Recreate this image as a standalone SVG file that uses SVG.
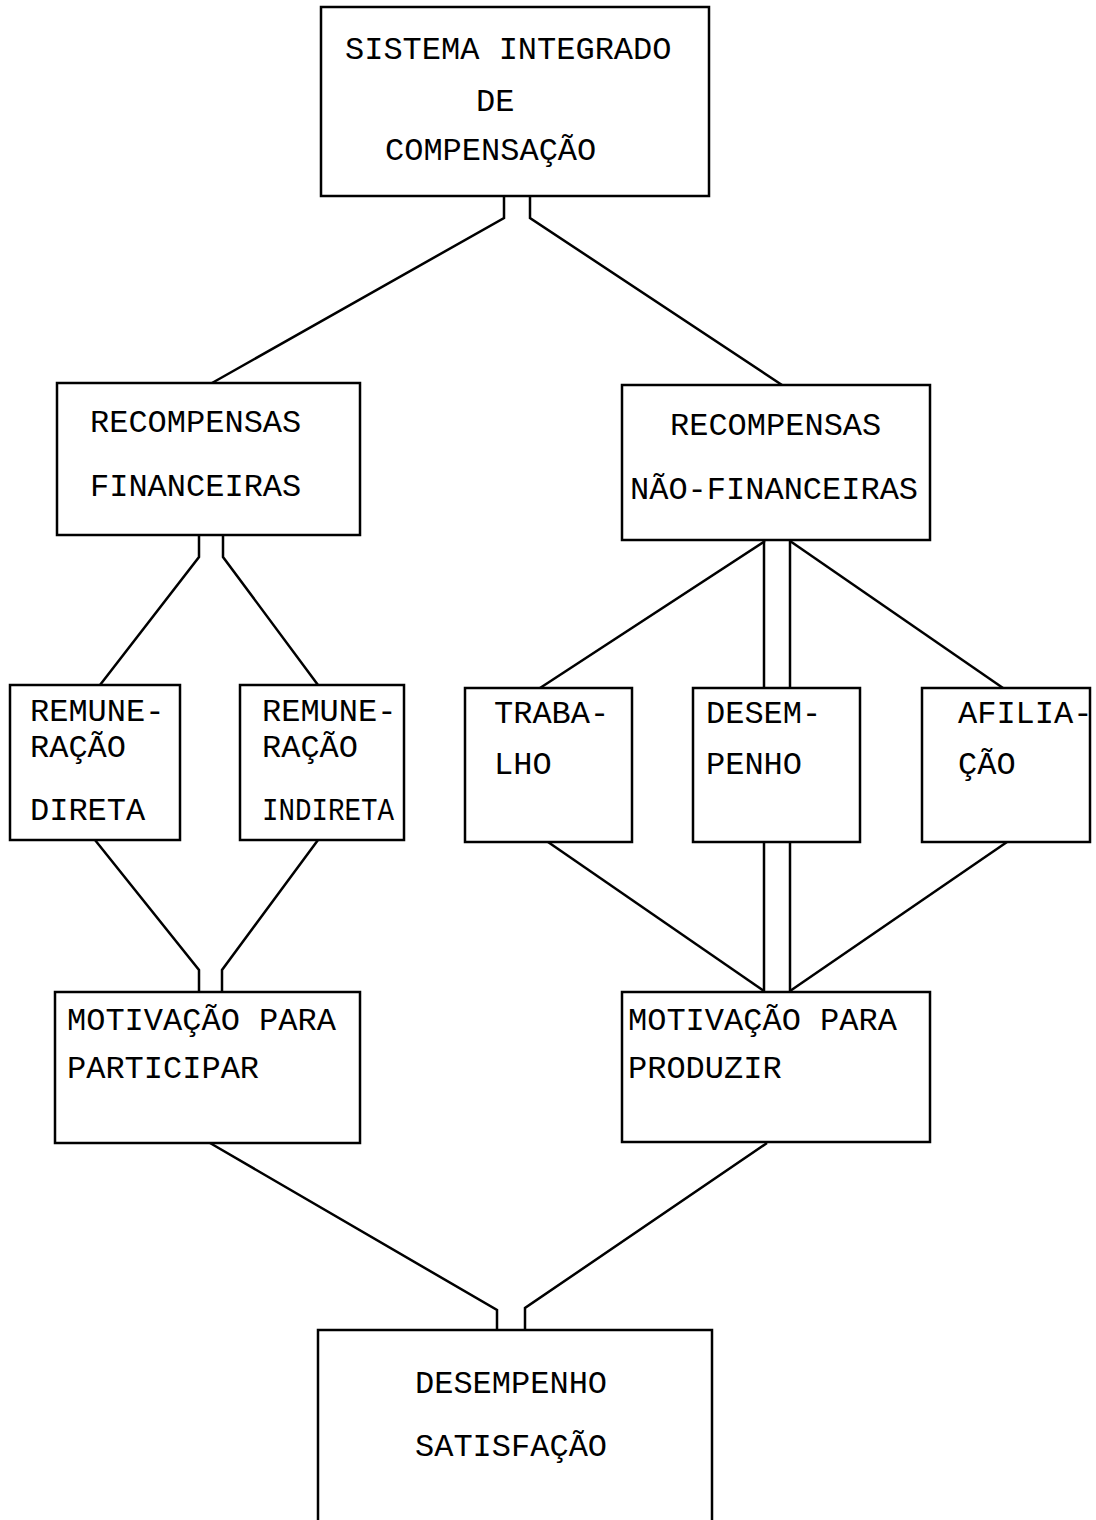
<svg xmlns="http://www.w3.org/2000/svg" width="1096" height="1520" viewBox="0 0 1096 1520">
<style>
.box{fill:none;stroke:#000;stroke-width:2.5}
.ln{fill:none;stroke:#000;stroke-width:2.5;stroke-linejoin:miter}
text{font-family:"Liberation Mono","Courier New",monospace;font-size:32px;fill:#000}
</style>
<rect width="1096" height="1520" fill="#fff"/>
<g id="connectors">
<polyline class="ln" points="212,383 504,218 504,196"/>
<polyline class="ln" points="782,385 530,218 530,196"/>
<polyline class="ln" points="100,685 199,557 199,535"/>
<polyline class="ln" points="318,685 223,557 223,535"/>
<line class="ln" x1="765" y1="541" x2="540" y2="688"/>
<line class="ln" x1="790" y1="541" x2="1003" y2="688"/>
<line class="ln" x1="764" y1="540" x2="764" y2="688"/>
<line class="ln" x1="790" y1="540" x2="790" y2="688"/>
<line class="ln" x1="764" y1="842" x2="764" y2="992"/>
<line class="ln" x1="790" y1="842" x2="790" y2="992"/>
<line class="ln" x1="548" y1="842" x2="764" y2="991"/>
<line class="ln" x1="1007" y1="842" x2="790" y2="991"/>
<polyline class="ln" points="95,840 199,970 199,992"/>
<polyline class="ln" points="318,840 222,970 222,992"/>
<polyline class="ln" points="210,1143 497,1310 497,1330"/>
<polyline class="ln" points="767,1143 525,1308 525,1330"/>
</g>
<g id="n1"><rect class="box" x="321" y="7" width="388" height="189"/>
<text x="345" y="59">SISTEMA INTEGRADO</text><text x="476" y="111">DE</text><text x="385" y="160">COMPENSAÇÃO</text></g>
<g id="n2"><rect class="box" x="57" y="383" width="303" height="152"/>
<text x="90" y="432">RECOMPENSAS</text><text x="90" y="496">FINANCEIRAS</text></g>
<g id="n3"><rect class="box" x="622" y="385" width="308" height="155"/>
<text x="670" y="435">RECOMPENSAS</text><text x="630" y="499">NÃO-FINANCEIRAS</text></g>
<g id="n4"><rect class="box" x="10" y="685" width="170" height="155"/>
<text x="30" y="721">REMUNE-</text><text x="30" y="757">RAÇÃO</text><text x="30" y="820">DIRETA</text></g>
<g id="n5"><rect class="box" x="240" y="685" width="164" height="155"/>
<text x="262" y="721">REMUNE-</text><text x="262" y="757">RAÇÃO</text><text x="262" y="820" textLength="132" lengthAdjust="spacingAndGlyphs">INDIRETA</text></g>
<g id="n6"><rect class="box" x="465" y="688" width="167" height="154"/>
<text x="494" y="723">TRABA-</text><text x="494" y="774">LHO</text></g>
<g id="n7"><rect class="box" x="693" y="688" width="167" height="154"/>
<text x="706" y="723">DESEM-</text><text x="706" y="774">PENHO</text></g>
<g id="n8"><rect class="box" x="922" y="688" width="168" height="154"/>
<text x="958" y="723">AFILIA-</text><text x="958" y="774">ÇÃO</text></g>
<g id="n9"><rect class="box" x="55" y="992" width="305" height="151"/>
<text x="67" y="1030">MOTIVAÇÃO PARA</text><text x="67" y="1078">PARTICIPAR</text></g>
<g id="n10"><rect class="box" x="622" y="992" width="308" height="150"/>
<text x="628" y="1030">MOTIVAÇÃO PARA</text><text x="628" y="1078">PRODUZIR</text></g>
<g id="n11"><rect class="box" x="318" y="1330" width="394" height="200"/>
<text x="415" y="1393">DESEMPENHO</text><text x="415" y="1456">SATISFAÇÃO</text></g>
</svg>
